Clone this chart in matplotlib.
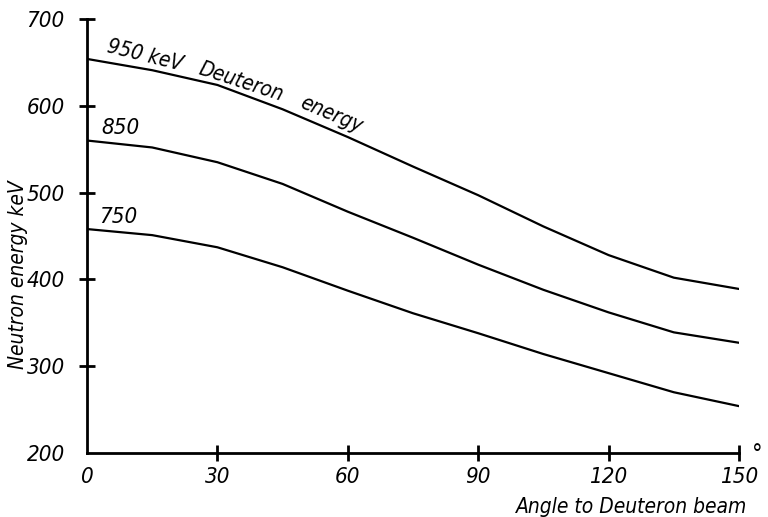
import numpy as np
import matplotlib
matplotlib.use("Agg")
from matplotlib import pyplot as plt

plt.rcParams['font.family'] = ['DejaVu Sans']
plt.rcParams['font.stretch'] = 'condensed'
plt.rcParams['font.style'] = 'italic'

# angle to deuteron beam (degrees)
angle = [0, 15, 30, 45, 60, 75, 90, 105, 120, 135, 150]
# neutron energy (keV) for each deuteron energy
e950 = [654, 641, 624, 596, 564, 530, 497, 461, 428, 402, 389]
e850 = [560, 552, 535, 510, 478, 448, 417, 388, 362, 339, 327]
e750 = [458, 451, 437, 414, 387, 361, 338, 314, 292, 270, 254]

xticks = [0, 30, 60, 90, 120, 150]
yticks = [200, 300, 400, 500, 600, 700]

fs = 16

fig = plt.figure(figsize=(7.68, 5.17), dpi=100)
ax = fig.add_axes([87/768, 1-453/517, 652/768, 434/517])

for e in (e950, e850, e750):
    ax.plot(angle, e, color='black', lw=1.6, solid_capstyle='round')

ax.set_xlim(0, 150)
ax.set_ylim(200, 700)
ax.set_xticks(xticks)
ax.set_yticks(yticks)
for s in ('top', 'right'):
    ax.spines[s].set_visible(False)
for s in ('left', 'bottom'):
    ax.spines[s].set_linewidth(2.0)
ax.tick_params(direction='inout', length=12, width=2.0, labelsize=fs)
ax.tick_params(axis='y', pad=10)
ax.tick_params(axis='x', pad=4)
ax.xaxis.get_major_ticks()[0].tick1line.set_visible(False)
ax.yaxis.get_major_ticks()[0].tick1line.set_visible(False)

# curve labels
ax.text(13.3, 658, '950 keV', fontsize=15, rotation=-14, ha='center', va='center')
ax.text(35.4, 627, 'Deuteron', fontsize=15, rotation=-18, ha='center', va='center')
ax.text(56.2, 590, 'energy', fontsize=15, rotation=-23, ha='center', va='center')
ax.text(7.6, 574, '850', fontsize=fs, ha='center', va='center')
ax.text(7.1, 472, '750', fontsize=fs, ha='center', va='center')

ax.text(-0.106, 0.41, 'Neutron energy keV', transform=ax.transAxes, fontsize=15,
        rotation=90, ha='center', va='center')
fig.text(747/768, 1-507/517, 'Angle to Deuteron beam', fontsize=15,
         ha='right', va='center')
fig.text(752/768, 1-455/517, '°', fontsize=17, ha='left', va='center')

fig.savefig('out.png', dpi=100, facecolor='white')
